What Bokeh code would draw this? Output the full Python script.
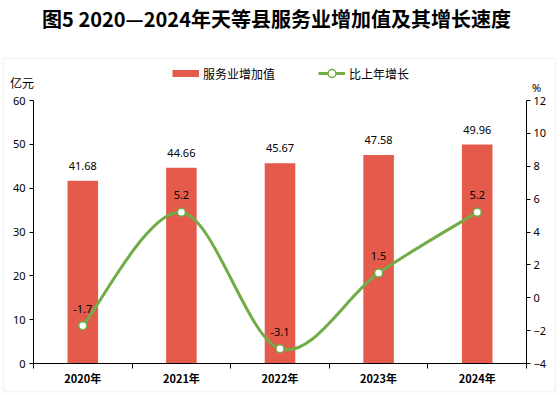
from bokeh.plotting import figure
from bokeh.models import (Range1d, LinearAxis, FixedTicker, Label, Legend,
                          LegendItem, BoxAnnotation)
from bokeh.embed import file_html
from bokeh.resources import INLINE
from bokeh.core.properties import value

title_text = "图5 2020—2024年天等县服务业增加值及其增长速度"
years = ["2020年", "2021年", "2022年", "2023年", "2024年"]
added_value = [41.68, 44.66, 45.67, 47.58, 49.96]
growth = [-1.7, 5.2, -3.1, 1.5, 5.2]
left_ticks = [0, 10, 20, 30, 40, 50, 60]
right_ticks = [-4, -2, 0, 2, 4, 6, 8, 10, 12]
series_names = ["服务业增加值", "比上年增长"]

RED = "#E55B4B"
GREEN = "#70AD47"
CJK = "Noto Sans CJK SC"

# canvas geometry (pixels) of the plotting area
W, H = 560, 395
FL, FR, FT, FB = 33, 526, 100, 363

x = [i + 0.5 for i in range(len(years))]
bounds = [i for i in range(len(years) + 1)]
ncat = len(years)

pxu = (FR - FL) / ncat
pyl = (FB - FT) / (left_ticks[-1] - left_ticks[0])
pyr = (FB - FT) / (right_ticks[-1] - right_ticks[0])

def dx(px):
    return (px - FL) / pxu

def dyl(py):
    return left_ticks[0] + (FB - py) / pyl

def dyr(py):
    return right_ticks[0] + (FB - py) / pyr

p = figure(width=W, height=H, title=None,
           x_range=Range1d(dx(0), dx(W)), y_range=Range1d(dyl(H), dyl(0)),
           x_axis_type=None, y_axis_type=None,
           output_backend="svg", toolbar_location=None,
           min_border=0, min_border_left=0, min_border_right=0,
           min_border_top=0, min_border_bottom=0)
p.extra_y_ranges = {"g": Range1d(dyr(H), dyr(0))}
p.grid.visible = False
p.outline_line_color = None

# x axis
xa = LinearAxis(ticker=FixedTicker(ticks=x, minor_ticks=bounds),
                fixed_location=left_ticks[0], bounds=(0, ncat))
xa.major_label_overrides = {xi: y for xi, y in zip(x, years)}
xa.major_tick_line_color = None
xa.minor_tick_in = 0
xa.minor_tick_out = 5
xa.minor_tick_line_color = "black"
xa.axis_line_color = "black"
xa.major_label_text_font = CJK
xa.major_label_text_font_size = "11px"
xa.major_label_text_font_style = "bold"
xa.major_label_text_color = "black"
xa.major_label_standoff = 0
p.add_layout(xa, "below")

# left axis
ya = LinearAxis(ticker=FixedTicker(ticks=left_ticks), fixed_location=0,
                bounds=(left_ticks[0], left_ticks[-1]))
ya.major_tick_in = 0
ya.major_tick_out = 4
ya.minor_tick_line_color = None
ya.axis_line_color = "black"
ya.major_tick_line_color = "black"
ya.major_label_text_font = "Noto Sans"
ya.major_label_text_font_size = "11px"
ya.major_label_text_color = "black"
ya.major_label_standoff = 4
p.add_layout(ya, "left")

# right axis
ra = LinearAxis(y_range_name="g", ticker=FixedTicker(ticks=right_ticks),
                fixed_location=ncat, bounds=(right_ticks[0], right_ticks[-1]))
ra.major_tick_in = 0
ra.major_tick_out = 4
ra.minor_tick_line_color = None
ra.axis_line_color = "black"
ra.major_tick_line_color = "black"
ra.major_label_text_font = "Noto Sans"
ra.major_label_text_font_size = "11px"
ra.major_label_text_color = "black"
ra.major_label_standoff = 3
p.add_layout(ra, "right")

# bars
bars = p.vbar(x=x, top=added_value, width=0.31, fill_color=RED, line_color=None)
p.text(x=x, y=added_value, text=[f"{v:.2f}" for v in added_value],
       text_align="center", text_baseline="middle", y_offset=-15,
       text_font=value("Noto Sans"), text_font_size="11px", text_color="black")

# smooth line (Excel-style cubic Bezier through the points)
n = len(growth)
x0s, y0s, x1s, y1s, cx0s, cy0s, cx1s, cy1s = ([] for _ in range(8))
for i in range(n - 1):
    pm = i - 1 if i > 0 else i
    pp = i + 2 if i + 2 < n else i + 1
    x0s.append(x[i]); y0s.append(growth[i])
    x1s.append(x[i + 1]); y1s.append(growth[i + 1])
    cx0s.append(x[i] + (x[i + 1] - x[pm]) / 6)
    cy0s.append(growth[i] + (growth[i + 1] - growth[pm]) / 6)
    cx1s.append(x[i + 1] - (x[pp] - x[i]) / 6)
    cy1s.append(growth[i + 1] - (growth[pp] - growth[i]) / 6)
p.bezier(x0=x0s, y0=y0s, x1=x1s, y1=y1s, cx0=cx0s, cy0=cy0s, cx1=cx1s, cy1=cy1s,
         line_color=GREEN, line_width=3, y_range_name="g")
sc = p.scatter(x=x, y=growth, size=8, fill_color="white", line_color=GREEN,
               line_width=1.5, y_range_name="g")
p.text(x=x, y=growth, text=[f"{g:.1f}" for g in growth],
       text_align="center", text_baseline="middle", y_offset=-17,
       text_font=value("Noto Sans"), text_font_size="11px", text_color="black",
       y_range_name="g")

# legend swatches (hidden proxy renderers, drawn only in the legend)
proxy_red = p.line(x=x, y=added_value, line_color=RED, line_width=7, visible=False)
proxy_green = p.line(x=x, y=growth, line_color=GREEN, line_width=3,
                     y_range_name="g", visible=False)
legend = Legend(items=[LegendItem(label=series_names[0], renderers=[proxy_red]),
                       LegendItem(label=series_names[1], renderers=[proxy_green, sc])],
                location=(172, H - 83), orientation="horizontal", padding=0, margin=0,
                spacing=43, glyph_width=27, glyph_height=20, label_height=20,
                label_standoff=4, label_text_font=CJK, label_text_font_size="12px",
                label_text_color="black", inactive_fill_alpha=0,
                border_line_color=None, background_fill_alpha=0)
p.add_layout(legend)

# title and unit labels
p.add_layout(Label(x=dx(276), y=dyl(18), text=title_text, text_align="center",
                   text_baseline="middle", text_font=CJK, text_font_size="20px",
                   text_font_style="bold", text_color="black"))
p.add_layout(Label(x=dx(21.5), y=dyl(82), text="亿元", text_align="center",
                   text_baseline="middle", text_font=CJK, text_font_size="12px",
                   text_color="black"))
p.add_layout(Label(x=dx(536), y=dyl(87), text="%", text_align="center",
                   text_baseline="middle", text_font="Noto Sans", text_font_size="11px",
                   text_color="black"))

# outer light frame
p.add_layout(BoxAnnotation(left=dx(3), right=dx(555), top=dyl(58), bottom=dyl(391),
                           fill_alpha=0, line_color="#D9D9D9", line_width=1.5))

open("out.html", "w").write(file_html(p, INLINE))
